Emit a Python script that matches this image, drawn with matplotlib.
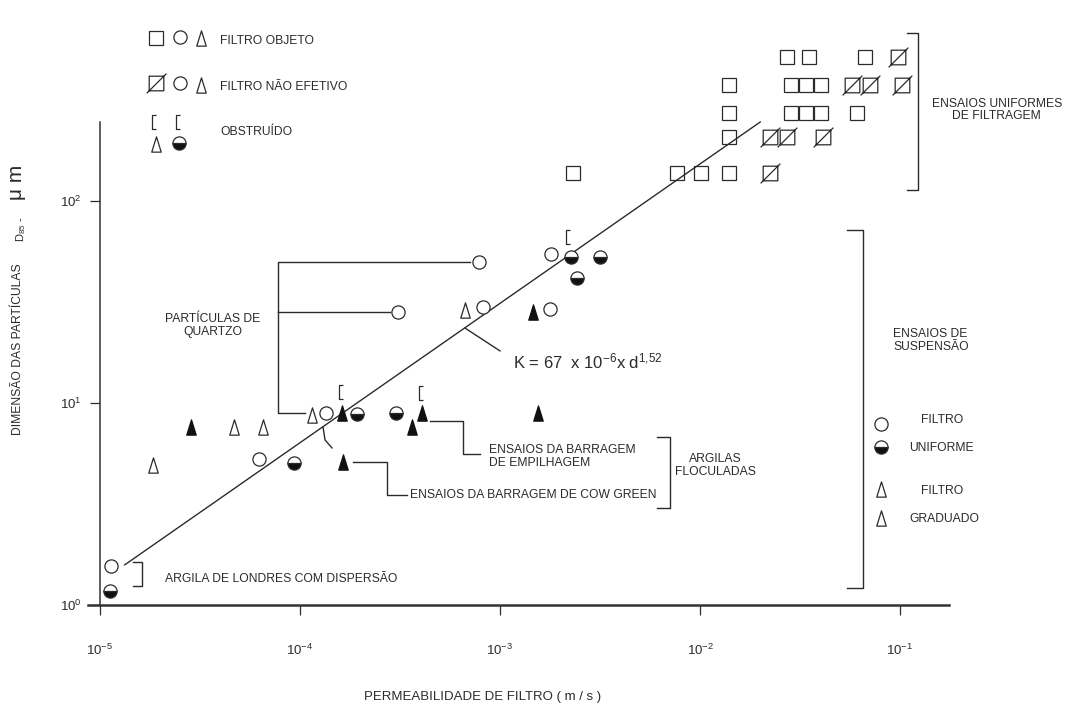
import numpy as np
import matplotlib.pyplot as plt
from matplotlib.path import Path
from matplotlib.ticker import NullLocator

plt.rcParams['font.family'] = ['Liberation Sans', 'DejaVu Sans']
plt.rcParams['mathtext.fontset'] = 'custom'
plt.rcParams['mathtext.rm'] = 'Liberation Sans'
plt.rcParams['mathtext.it'] = 'Liberation Sans:italic'
plt.rcParams['mathtext.bf'] = 'Liberation Sans:bold'

INK = '#2b2b2b'

# Ensaios uniformes de filtragem - filtro objeto (quadrados abertos)
sq_k = [0.0272, 0.0351, 0.0668,
        0.01396, 0.0285, 0.0339, 0.0403,
        0.01396, 0.0285, 0.0339, 0.0403, 0.061,
        0.01396,
        0.00232, 0.00767, 0.0101, 0.01396]
sq_d = [516, 516, 516,
        375, 375, 375, 375,
        273, 273, 273, 273, 273,
        207,
        138, 138, 138, 138]

# filtro não efetivo (quadrados riscados)
sqx_k = [0.0977, 0.0575, 0.0708, 0.102, 0.0224, 0.0272, 0.0412, 0.0224]
sqx_d = [516, 375, 375, 375, 207, 207, 207, 138]

# Ensaios de suspensão - filtro uniforme
circ_k = [7.85e-4, 1.80e-3, 3.09e-4, 8.22e-4, 1.78e-3, 1.35e-4, 6.24e-5, 1.135e-5]
circ_d = [49.9, 54.7, 28.2, 29.9, 29.2, 8.92, 5.28, 1.56]
half_k = [2.26e-3, 3.16e-3, 2.43e-3, 1.93e-4, 3.02e-4, 9.33e-5, 1.12e-5]
half_d = [52.8, 52.8, 41.6, 8.83, 8.92, 5.05, 1.17]

# filtro graduado
tri_k = [6.68e-4, 1.15e-4, 4.68e-5, 6.53e-5, 1.84e-5]
tri_d = [28.9, 8.72, 7.61, 7.61, 4.93]
trif_k = [1.46e-3, 1.62e-4, 4.07e-4, 3.63e-4, 1.55e-3, 2.85e-5, 1.64e-4]
trif_d = [28.2, 8.92, 8.92, 7.61, 8.92, 7.61, 5.10]

# obstruído
obs_k = [2.19e-3, 1.60e-4, 4.03e-4]
obs_d = [66.4, 11.3, 11.2]

# reta K = 67 x 10^-6 x d^1,52
fit_k = [1.33e-5, 2.0e-2]
fit_d = [1.58, 246]

tri_marker = Path([(-0.62, -1), (0.62, -1), (0, 1), (-0.62, -1)],
                  [Path.MOVETO, Path.LINETO, Path.LINETO, Path.CLOSEPOLY])
crossed_marker = Path([(-1, -1), (1, -1), (1, 1), (-1, 1), (-1, -1), (-1.35, -1.35), (1.35, 1.35)],
                      [Path.MOVETO, Path.LINETO, Path.LINETO, Path.LINETO, Path.CLOSEPOLY,
                       Path.MOVETO, Path.LINETO])
bracket_marker = Path([(0.35, 1), (-0.35, 1), (-0.35, -1), (0.35, -1)],
                      [Path.MOVETO, Path.LINETO, Path.LINETO, Path.LINETO])

sq_style = dict(ls='none', marker='s', ms=10.5, mfc='none', mec=INK, mew=0.9)
sqx_style = dict(ls='none', marker=crossed_marker, ms=14.2, mfc='none', mec=INK, mew=0.9)
circ_style = dict(ls='none', marker='o', ms=9.5, mfc='white', mec=INK, mew=0.9)
half_style = dict(ls='none', marker='o', ms=9.5, fillstyle='bottom', mfc='#111111',
                  markerfacecoloralt='white', mec=INK, mew=0.9)
tri_style = dict(ls='none', marker=tri_marker, ms=11, mfc='white', mec=INK, mew=0.9)
trif_style = dict(ls='none', marker=tri_marker, ms=11, mfc='#111111', mec='#111111', mew=0.9)
obs_style = dict(ls='none', marker=bracket_marker, ms=9.5, mfc='none', mec=INK, mew=0.9)

fig = plt.figure(figsize=(10.65, 7.11), dpi=100)
ax = fig.add_axes([0, 0, 1, 1])
ax.set_xscale('log')
ax.set_yscale('log')
ax.set_xlim(10 ** -5.5, 10 ** -0.175)
ax.set_ylim(10 ** -0.525, 10 ** 2.995)

# linha de ajuste
ax.plot(fit_k, fit_d, color=INK, lw=1.0)

ax.plot(sq_k, sq_d, **sq_style)
ax.plot(sqx_k, sqx_d, **sqx_style)
ax.plot(circ_k, circ_d, **circ_style)
ax.plot(half_k, half_d, **half_style)
ax.plot(tri_k, tri_d, **tri_style)
ax.plot(trif_k, trif_d, **trif_style)
ax.plot(obs_k, obs_d, **obs_style)

# eixos
for s in ['top', 'right']:
    ax.spines[s].set_visible(False)
ax.spines['bottom'].set_position(('data', 1.0))
ax.spines['bottom'].set_bounds(10 ** -5.06, 10 ** -0.755)
ax.spines['bottom'].set_linewidth(1.8)
ax.spines['bottom'].set_color('#333333')
ax.spines['left'].set_position(('data', 1e-5))
ax.spines['left'].set_bounds(1, 246)
ax.spines['left'].set_linewidth(1.1)
ax.spines['left'].set_color('#333333')

ax.set_xticks([1e-5, 1e-4, 1e-3, 1e-2, 1e-1])
ax.set_xticklabels([r'$10^{-5}$', r'$10^{-4}$', r'$10^{-3}$', r'$10^{-2}$', r'$10^{-1}$'])
ax.set_yticks([1, 10, 100])
ax.set_yticklabels([r'$10^{0}$', r'$10^{1}$', r'$10^{2}$'])
ax.xaxis.set_minor_locator(NullLocator())
ax.yaxis.set_minor_locator(NullLocator())
ax.tick_params(direction='out', length=7, width=0.9, color=INK, labelcolor=INK,
               labelsize=9.5)
ax.tick_params(axis='x', pad=20)
ax.tick_params(axis='y', pad=6)

fig.text(483 / 1065, 1 - 697 / 711, 'PERMEABILIDADE DE FILTRO ( m / s )',
         ha='center', va='center', fontsize=9.5, color=INK)
fig.text(18 / 1065, 1 - 263 / 711, 'DIMENSÃO DAS PARTÍCULAS', rotation=90,
         ha='center', va='top', fontsize=8.7, color=INK)
fig.text(21 / 1065, 1 - 242 / 711, r'D$_{85}$ -', rotation=90,
         ha='center', va='bottom', fontsize=8, color=INK)
fig.text(17 / 1065, 1 - 200 / 711, 'μ m', rotation=90,
         ha='center', va='bottom', fontsize=15, color=INK)

lkw = dict(color=INK, lw=1.0)
tkw = dict(fontsize=8.7, color=INK)

# partículas de quartzo
ax.plot([7.08e-4, 7.76e-5, 7.76e-5, 1.06e-4], [49.9, 49.9, 8.92, 8.92], **lkw)
ax.plot([7.76e-5, 2.82e-4], [28.2, 28.2], **lkw)
ax.text(3.67e-5, 24.3, 'PARTÍCULAS DE\nQUARTZO', ha='center', va='center',
        linespacing=1.1, **tkw)

# equação da reta
ax.plot([6.68e-4, 1e-3], [23.5, 18.1], **lkw)
ax.text(1.16e-3, 14.9, r'K = 67  x 10$^{-6}$x d$^{1{,}52}$', ha='left', va='baseline',
        fontsize=12, color=INK)

# argilas floculadas
ax.plot([1.303e-4, 1.334e-4, 1.445e-4], [7.61, 6.56, 5.99], **lkw)
ax.plot([1.84e-4, 2.72e-4, 2.72e-4, 3.43e-4], [5.10, 5.10, 3.51, 3.51], **lkw)
ax.text(3.55e-4, 3.51, 'ENSAIOS DA BARRAGEM DE COW GREEN', ha='left', va='center', **tkw)
ax.plot([4.47e-4, 6.53e-4, 6.53e-4, 7.94e-4], [8.15, 8.15, 5.59, 5.59], **lkw)
ax.text(8.81e-4, 5.43, 'ENSAIOS DA BARRAGEM\nDE EMPILHAGEM', ha='left', va='center',
        linespacing=1.05, **tkw)
ax.plot([6.10e-3, 7.08e-3, 7.08e-3, 6.10e-3], [6.79, 6.79, 3.02, 3.02], **lkw)
ax.text(1.19e-2, 4.88, 'ARGILAS\nFLOCULADAS', ha='center', va='center',
        linespacing=1.1, **tkw)

# argila de Londres
ax.plot([1.46e-5, 1.62e-5, 1.62e-5, 1.46e-5], [1.63, 1.63, 1.24, 1.24], **lkw)
ax.text(2.11e-5, 1.35, 'ARGILA DE LONDRES COM DISPERSÃO', ha='left', va='center', **tkw)

# chaves à direita
ax.plot([0.108, 0.123, 0.123, 0.108], [679, 679, 113, 113], **lkw)
ax.text(0.305, 282, 'ENSAIOS UNIFORMES\nDE FILTRAGEM', ha='center', va='center',
        linespacing=1.1, **tkw)
ax.plot([0.0543, 0.0653, 0.0653, 0.0543], [71.8, 71.8, 1.21, 1.21], **lkw)
ax.text(0.0923, 20.3, 'ENSAIOS DE\nSUSPENSÃO', ha='left', va='center',
        linespacing=1.1, **tkw)

# legenda - ensaios de suspensão
ax.plot([0.0804], [7.87], **circ_style)
ax.plot([0.0804], [6.05], **half_style)
ax.plot([0.0804, 0.0804], [3.75, 2.70], **tri_style)
ax.text(0.127, 8.24, 'FILTRO', ha='left', va='center', **tkw)
ax.text(0.111, 5.99, 'UNIFORME', ha='left', va='center', **tkw)
ax.text(0.127, 3.67, 'FILTRO', ha='left', va='center', **tkw)
ax.text(0.111, 2.66, 'GRADUADO', ha='left', va='center', **tkw)

# legenda - símbolos
ax.plot([1.905e-5], [640], **sq_style)
ax.plot([2.51e-5], [645], **circ_style)
ax.plot([3.20e-5], [641], **tri_style)
ax.text(3.98e-5, 622, 'FILTRO OBJETO', ha='left', va='center', **tkw)
ax.plot([1.905e-5], [384], **sqx_style)
ax.plot([2.51e-5], [384], **circ_style)
ax.plot([3.20e-5], [375], **tri_style)
ax.text(3.98e-5, 367, 'FILTRO NÃO EFETIVO', ha='left', va='center', **tkw)
ax.plot([1.86e-5, 2.45e-5], [246, 246], **obs_style)
ax.plot([1.905e-5], [191], **tri_style)
ax.plot([2.48e-5], [194], **half_style)
ax.text(3.98e-5, 220, 'OBSTRUÍDO', ha='left', va='center', **tkw)

fig.savefig('out.png', dpi=100, facecolor='white')
